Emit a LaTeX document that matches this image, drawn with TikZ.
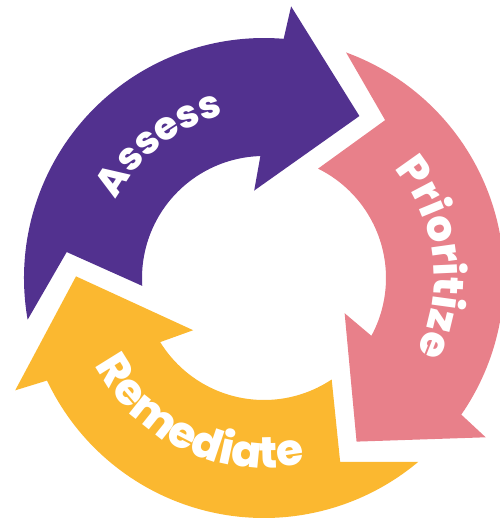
\documentclass[tikz,border=0pt]{standalone}
\usepackage{fontspec}
\setmainfont{Poppins}[BoldFont={Poppins ExtraBold}]
\usetikzlibrary{decorations.text}
\definecolor{assesspurple}{HTML}{52318F}
\definecolor{prioritizepink}{HTML}{E8808A}
\definecolor{remediateyellow}{HTML}{FBB830}
\tikzstyle{cyclearrow} = [draw=none]
\tikzstyle{steplabel} = [decorate, decoration={text along path, text align=center, text color=white}]
\newcommand{\labelfont}[1]{\fontsize{#1}{#1}\selectfont\bfseries}
% one arrow of the cycle, #1 = rotation offset, #2 = colour
\newcommand{\drawcyclearrow}[2]
{
  \fill[cyclearrow, fill=#2] (190+#1:4.8) arc[start angle=190+#1, end angle=85.3+#1, radius=4.8]
    -- (84.3+#1:5.46) -- (59.5+#1:3.76) -- (96.4+#1:1.76) -- (91.7+#1:2.44)
    arc[start angle=91.7+#1, end angle=183.7+#1, radius=2.44] -- (172.5+#1:3.98) -- cycle;
}

\begin{document}
\begin{tikzpicture}
	\useasboundingbox (-5.28,-4.80) rectangle (4.72,5.56);
	\coordinate (c) at (0,0);

	\drawcyclearrow{0}{assesspurple}
	\drawcyclearrow{-120}{prioritizepink}
	\drawcyclearrow{-240}{remediateyellow}

	% labels, baseline inside for the upper two, outside for the bottom one
	\path[steplabel, decoration={text={|\labelfont{22}|Assess}}] (178:3.35) arc[start angle=178, end angle=78, radius=3.35];
	\path[steplabel, decoration={text={|\labelfont{24}|Prioritize}}] (57:3.4) arc[start angle=57, end angle=-43, radius=3.4];
	\path[steplabel, decoration={text={|\labelfont{25}|Remediate}}] (190:3.8) arc[start angle=190, end angle=300, radius=3.8];

\end{tikzpicture}
\end{document}
